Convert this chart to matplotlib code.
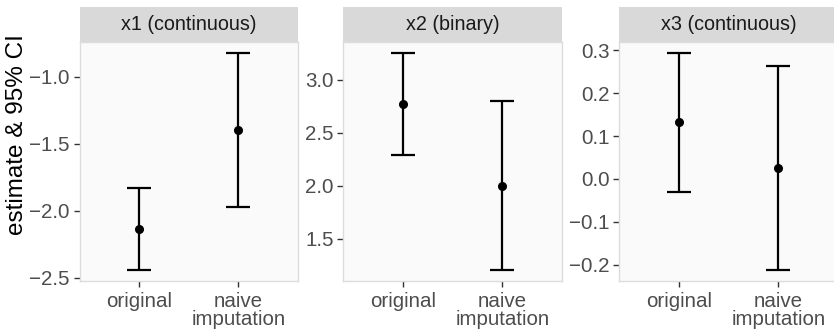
import matplotlib

matplotlib.use("Agg")

import matplotlib.pyplot as plt

plt.rcParams["font.family"] = ["Liberation Sans", "DejaVu Sans"]

# Estimaciones y bandas del IC 95% para cada covariable.
categorias = ["original", "naive\nimputation"]
titulos = ["x1 (continuous)", "x2 (binary)", "x3 (continuous)"]

est_x1 = [-2.136, -1.398]
inf_x1 = [-2.443, -1.975]
sup_x1 = [-1.829, -0.820]

est_x2 = [2.775, 1.998]
inf_x2 = [2.293, 1.203]
sup_x2 = [3.254, 2.795]

est_x3 = [0.132, 0.025]
inf_x3 = [-0.030, -0.213]
sup_x3 = [0.294, 0.264]

ticks_x1 = [-2.5, -2.0, -1.5, -1.0]
ticks_x2 = [1.5, 2.0, 2.5, 3.0]
ticks_x3 = [-0.2, -0.1, 0.0, 0.1, 0.2, 0.3]

paneles = [
    (titulos[0], est_x1, inf_x1, sup_x1, ticks_x1),
    (titulos[1], est_x2, inf_x2, sup_x2, ticks_x2),
    (titulos[2], est_x3, inf_x3, sup_x3, ticks_x3),
]

ANCHO, ALTO = 834, 329
figura = plt.figure(figsize=(ANCHO / 100, ALTO / 100), dpi=100)


def caja(izq, arriba, ancho, alto):
    """Convierte un rectangulo en pixeles (origen arriba) a fraccion de figura."""
    return [izq / ANCHO, 1 - (arriba + alto) / ALTO, ancho / ANCHO, alto / ALTO]


izquierdas = [79.5, 343.3, 619.3]
ANCHO_PANEL = 218.6
TOPE_PANEL, BASE_PANEL = 42, 281
TOPE_TIRA = 7

for i, (titulo, est, inf, sup, ticks) in enumerate(paneles):
    eje = figura.add_axes(caja(izquierdas[i], TOPE_PANEL, ANCHO_PANEL,
                               BASE_PANEL - TOPE_PANEL))
    eje.set_facecolor("#FAFAFA")
    for lado in eje.spines.values():
        lado.set_color("#DCDCDC")
        lado.set_linewidth(1.0)

    posiciones = [1, 2]
    errores = [
        [e - lo for e, lo in zip(est, inf)],
        [hi - e for e, hi in zip(est, sup)],
    ]
    eje.errorbar(
        posiciones, est, yerr=errores, fmt="o", color="black",
        markersize=5.5, elinewidth=1.6, capsize=8.3, capthick=1.6,
    )

    # Expansion del 5% sobre el rango de los intervalos.
    bajo, alto = min(inf), max(sup)
    margen = (alto - bajo) * 0.05
    eje.set_ylim(bajo - margen, alto + margen)
    eje.set_xlim(0.4, 2.6)

    eje.set_xticks(posiciones)
    eje.set_xticklabels(categorias, linespacing=0.95)
    eje.set_yticks(ticks)
    eje.set_yticklabels([f"{t:.1f}".replace("-", "\u2212") for t in ticks])
    eje.tick_params(length=4, width=1, color="#333333", labelcolor="#4D4D4D",
                    labelsize=14.8)
    eje.tick_params(axis="y", pad=3)
    eje.tick_params(axis="x", pad=4)

    # Tira del facet.
    tira = figura.add_axes(caja(izquierdas[i], TOPE_TIRA, ANCHO_PANEL,
                                TOPE_PANEL - TOPE_TIRA))
    tira.set_facecolor("#D9D9D9")
    tira.set_xticks([])
    tira.set_yticks([])
    for lado in tira.spines.values():
        lado.set_visible(False)
    tira.text(0.5, 0.5, titulo, ha="center", va="center",
              fontsize=14.2, color="#1A1A1A", transform=tira.transAxes)

figura.text(17.5 / ANCHO, 1 - 135 / ALTO, "estimate & 95% CI", rotation=90,
            ha="center", va="center", fontsize=17.5, color="black")

figura.savefig("out.png", dpi=100)
plt.close(figura)
